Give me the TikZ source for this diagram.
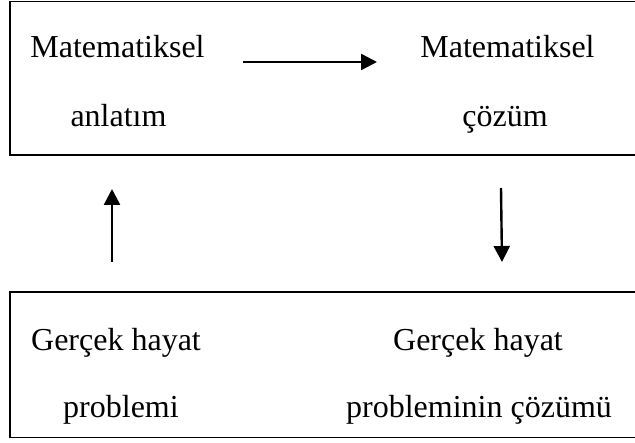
\documentclass[tikz,border=0pt]{standalone}
\usepackage{fontspec}
\setmainfont{Liberation Serif}
\usetikzlibrary{arrows.meta}
\begin{document}
\begin{tikzpicture}[x=1pt,y=-1pt,
  box/.style={draw=black, line width=1.8pt, inner sep=0pt, outer sep=0pt},
  lbl/.style={inner sep=0pt, anchor=base, font=\fontsize{32}{38}\selectfont},
  arr/.style={line width=2.4pt, -{Triangle[length=16pt,width=16pt]}}]
\fill[white] (0,0) rectangle (635,443);
\clip (0,0) rectangle (635,443);
\node[box, minimum width=640pt, minimum height=153.5pt, anchor=north west] (topbox) at (10,1.5) {};
\node[box, minimum width=640pt, minimum height=145.5pt, anchor=north west] (botbox) at (10,292) {};
\node[lbl] (m1) at (117.5,58) {Matematiksel};
\node[lbl] (a1) at (118.5,127) {anlatım};
\node[lbl] (m2) at (507.5,58) {Matematiksel};
\node[lbl] (c2) at (505,127) {çözüm};
\node[lbl] (g1) at (116,351) {Gerçek hayat};
\node[lbl] (p1) at (121,418) {problemi};
\node[lbl] (g2) at (478,351) {Gerçek hayat};
\node[lbl] (p2) at (479,418) {probleminin çözümü};
\coordinate (h1) at (243,62);
\coordinate (h2) at (377,62);
\coordinate (l1) at (112,262);
\coordinate (l2) at (112,189);
\coordinate (r1) at (501,188);
\coordinate (r2) at (502,262);
\draw[arr] (h1) -- (h2);
\draw[arr] (l1) -- (l2);
\draw[arr] (r1) -- (r2);
\end{tikzpicture}
\end{document}
